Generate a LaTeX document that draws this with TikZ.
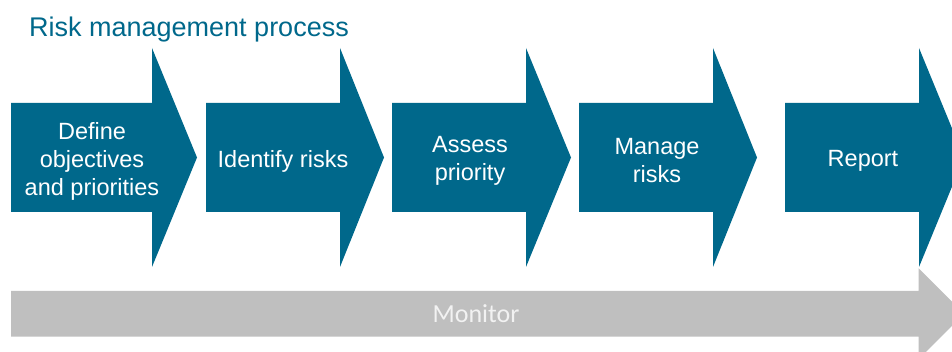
\documentclass[tikz,border=0pt]{standalone}
\usepackage{fontspec}
\setmainfont{Liberation Sans}
\newfontfamily\carlito{Carlito}
\usetikzlibrary{positioning}
\definecolor{TealA}{HTML}{00688B}
\definecolor{GrayA}{HTML}{BFBFBF}
\definecolor{GrayT}{HTML}{F2F2F2}
\tikzset{
  stage/.style={fill=TealA},
  stagetxt/.style={align=center, text=white, inner sep=0pt, font=\fontsize{23.5}{28}\selectfont},
  band/.style={fill=GrayA},
  bandtxt/.style={text=GrayT, inner sep=0pt, font=\carlito\fontsize{26}{30}\selectfont},
  heading/.style={text=TealA, anchor=base west, inner sep=0pt, font=\fontsize{27}{31}\selectfont}
}

\begin{document}
\begin{tikzpicture}[x=1pt, y=1pt]
  \useasboundingbox (0,0) rectangle (952,352);
  \clip (0,0) rectangle (952,352);

  \node[heading] (title) at (29,315) {Risk management process};

  % process steps
  \fill[stage] (11,140) -- (11,249) -- (152,249) -- (152,304) -- (197,194.5) -- (152,85) -- (152,140) -- cycle;
  \fill[stage] (206,140) -- (206,249) -- (340,249) -- (340,304) -- (384,194.5) -- (340,85) -- (340,140) -- cycle;
  \fill[stage] (392,140) -- (392,249) -- (526,249) -- (526,304) -- (571,194.5) -- (526,85) -- (526,140) -- cycle;
  \fill[stage] (579,140) -- (579,249) -- (713,249) -- (713,304) -- (757,194.5) -- (713,85) -- (713,140) -- cycle;
  \fill[stage] (785,140) -- (785,249) -- (919,249) -- (919,304) -- (964,194.5) -- (919,85) -- (919,140) -- cycle;

  \node[stagetxt] (define) at (92,191) {Define\\objectives\\and priorities};
  \node[stagetxt] (identify) at (283,191) {Identify risks};
  \node[stagetxt] (assess) at (470,191) {Assess\\priority};
  \node[stagetxt] (manage) at (657,191) {Manage\\risks};
  \node[stagetxt] (report) at (863,191) {Report};

  % monitoring runs under all steps
  \fill[band] (11,15.3) -- (11,61) -- (918.7,61) -- (918.7,83.7) -- (964,38.2) -- (918.7,-7.3) -- (918.7,15.3) -- cycle;
  \node[bandtxt] (monitor) at (476,38) {Monitor};
\end{tikzpicture}
\end{document}
